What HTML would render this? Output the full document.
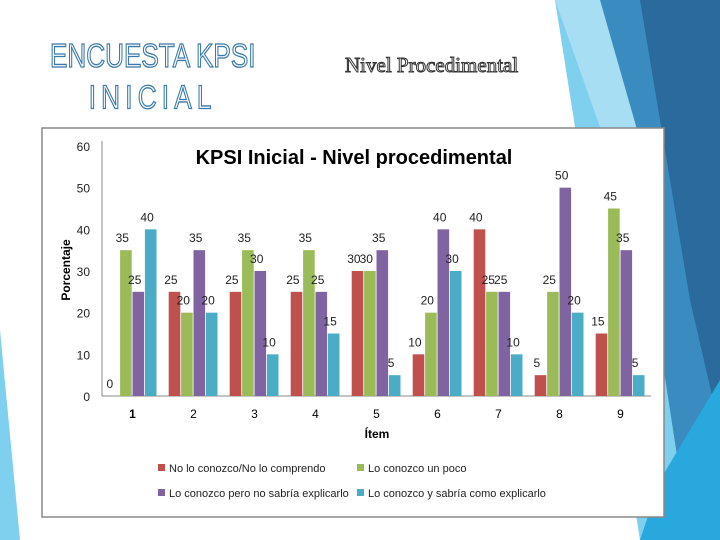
<!DOCTYPE html>
<html><head><meta charset="utf-8"><style>
body{margin:0;width:720px;height:540px;overflow:hidden;background:#fff;font-family:"Liberation Sans",sans-serif;position:relative}
.t{position:absolute;color:#fff;-webkit-text-stroke:1.2px #3a7aa8;white-space:nowrap}
</style></head><body>
<svg width="720" height="540" style="position:absolute;left:0;top:0">
<polygon points="555,0 720,0 720,540 640,540" fill="#7fcfee"/>
<polygon points="590,0 720,0 720,540 690,540 650,280" fill="#3a8cc0"/>
<polygon points="640,0 720,0 720,430 690,300" fill="#2a6a9c"/>
<polygon points="660,480 720,380 720,540 640,540" fill="#28a8dc"/>
<polygon points="555,0 600,0 660,210 640,240" fill="#a8def4"/>
<polygon points="0,330 20,540 0,540" fill="#7fcfee"/>
</svg>
<div class="t" style="left:50px;top:36px;width:236px;font-size:30px;line-height:38px;text-align:center;transform:scale(0.87,1.1);transform-origin:left top">ENCUESTA KPSI<br><span style="letter-spacing:6px">INICIAL</span></div>
<div class="t" style="left:345px;top:53px;font-size:21px;font-family:'Liberation Serif',serif;-webkit-text-stroke:1px #333">Nivel Procedimental</div>
<svg id="c" width="720" height="540" style="position:absolute;left:0;top:0"></svg>
<script>
const categories=["1","2","3","4","5","6","7","8","9"];
const sNo=[0,25,25,25,30,10,40,5,15];
const sPoco=[35,20,35,35,30,20,25,25,45];
const sPero=[25,35,30,25,35,40,25,50,35];
const sSabria=[40,20,10,15,5,30,10,20,5];
const yTicks=[0,10,20,30,40,50,60];
const seriesNames=["No lo conozco/No lo comprendo","Lo conozco un poco","Lo conozco pero no sabría explicarlo","Lo conozco y sabría como explicarlo"];
const colors=["#c0504d","#9bbb59","#8064a2","#4bacc6"];
const svg=document.getElementById('c');const NS='http://www.w3.org/2000/svg';
function el(t,a,txt){const e=document.createElementNS(NS,t);for(const k in a)e.setAttribute(k,a[k]);if(txt!==undefined)e.textContent=txt;svg.appendChild(e);return e;}
const X0=102,X1=651,Y0=396,Y60=146;
const y=v=>Y0-(v/60)*(Y0-Y60);
const cw=(X1-X0)/categories.length;const bw=12.4;
let e=el('rect',{x:42,y:128,width:622,height:389,fill:'#fff',stroke:'#888','stroke-width':1.5});

e=el('text',{x:354,y:164,'text-anchor':'middle','font-size':20,'font-weight':'bold',fill:'#000'},'KPSI Inicial - Nivel procedimental');

yTicks.forEach(t=>{const l=el('text',{x:90,y:y(t)+5,'text-anchor':'end','font-size':12,fill:'#222'},t);
});
e=el('line',{x1:X0,y1:Y60-5,x2:X0,y2:Y0,stroke:'#888'});
e=el('line',{x1:X0,y1:Y0,x2:X1,y2:Y0,stroke:'#888'});
e=el('text',{x:0,y:0,transform:'translate(70,270) rotate(-90)','text-anchor':'middle','font-size':12,'font-weight':'bold'},'Porcentaje');

e=el('text',{x:377,y:438,'text-anchor':'middle','font-size':12,'font-weight':'bold'},'Ítem');

const series=[sNo,sPoco,sPero,sSabria];
categories.forEach((c,i)=>{const cx=X0+cw*(i+0.5);
const l=el('text',{x:cx,y:418,'text-anchor':'middle','font-size':12,'font-weight':i==0?'bold':'normal'},c);

series.forEach((s,j)=>{const bx=cx-2*bw+j*bw;const v=s[i];
const r=el('rect',{x:bx,y:y(v),width:bw-0.8,height:Y0-y(v),fill:colors[j]});

const t=el('text',{x:bx+bw/2-4,y:y(v)-8,'text-anchor':'middle','font-size':12,fill:'#222'},v);
});});
const lp=[[158,472],[357,472],[158,497],[357,497]];
seriesNames.forEach((n,j)=>{const r=el('rect',{x:lp[j][0],y:lp[j][1]-8,width:7,height:7,fill:colors[j]});

const t=el('text',{x:lp[j][0]+11,y:lp[j][1],'font-size':11,fill:'#222'},n);
});
</script>
</body></html>
